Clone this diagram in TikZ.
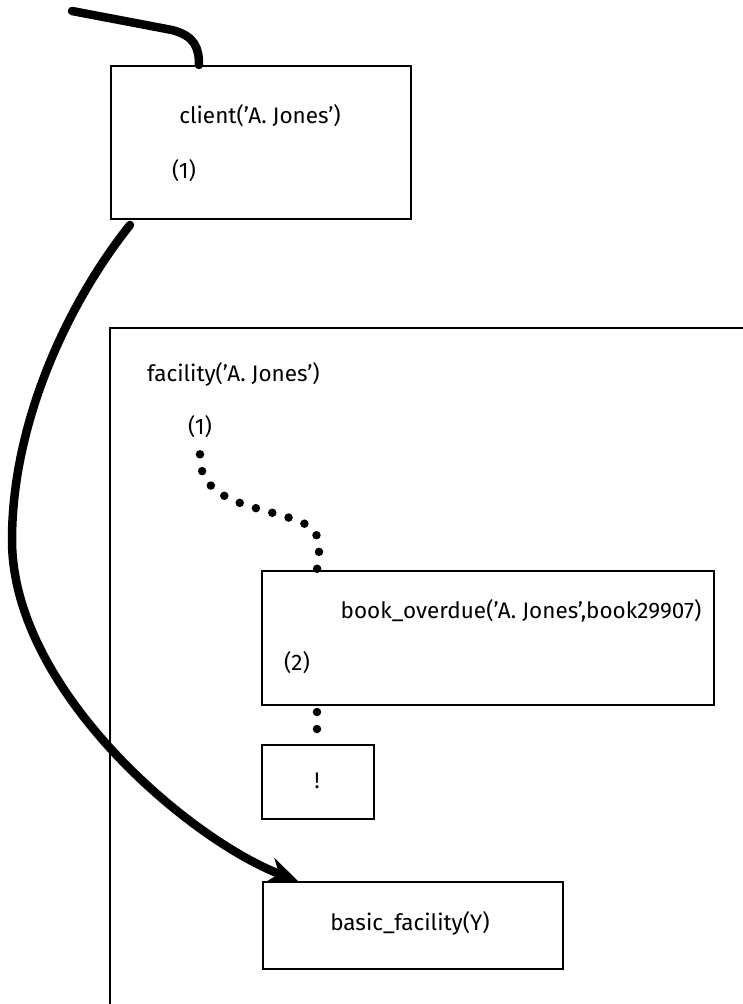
\documentclass[tikz,border=0pt]{standalone}
\usepackage{fontspec}
\setmainfont{Fira Sans}
\usepackage{tikz}
\usetikzlibrary{arrows.meta}

\begin{document}
\begin{tikzpicture}[x=1pt, y=-1pt, >={Stealth[length=30pt,width=26pt]},
    every node/.style={font=\fontsize{22.5}{26}\selectfont, inner sep=0pt},
    goalbox/.style={draw, line width=2pt, anchor=north west},
    flow/.style={line width=8.5pt, line cap=round},
    dotline/.style={line width=8.5pt, line cap=round, dash pattern=on 0pt off 17pt}]
    \useasboundingbox (0,0) rectangle (743,1004);

    \node[goalbox, minimum width=300pt, minimum height=153pt] (client) at (110,65) {};
    \node (clientlabel) at (260,116) {client(’A. Jones’)};
    \node (clientone) at (184,171) {(1)};

    \draw[line width=2pt] (110,1004) -- (110,328) -- (743,328);
    \node[anchor=west] (facilitylabel) at (147,374) {facility(’A. Jones’)};
    \node (facilityone) at (200,427) {(1)};

    \node[goalbox, minimum width=452pt, minimum height=134pt] (book) at (261,570) {};
    \node (booklabel) at (521,611) {book\_overdue(’A. Jones’,book29907)};
    \node (booktwo) at (297,663) {(2)};

    \node[goalbox, minimum width=112pt, minimum height=74pt] (cut) at (261,744) {};
    \node (cutlabel) at (317,781) {!};

    \node[goalbox, minimum width=300pt, minimum height=87pt] (basic) at (262,881) {};
    \node (basiclabel) at (410,923) {basic\_facility(Y)};

    \coordinate (caller) at (72,11);
    \draw[flow] (caller) -- (172,30) .. controls (195,36) and (199,48) .. ([xshift=-62pt]client.north);
    \draw[flow, ->] ([xshift=20pt,yshift=-5pt]client.south west) .. controls (70,300) and (12,420) .. (12,540)
        .. controls (12,690) and (190,840) .. ([xshift=36pt]basic.north west);

    \draw[dotline] ([yshift=-16pt]facilityone.south) .. controls (198,500) and (250,505) .. (290,518)
        .. controls (325,528) and (320,545) .. ([xshift=56pt]book.north west);
    \draw[dotline] ([xshift=56pt,yshift=-6pt]book.south west) -- ([xshift=56pt,yshift=12pt]cut.north west);
\end{tikzpicture}
\end{document}
